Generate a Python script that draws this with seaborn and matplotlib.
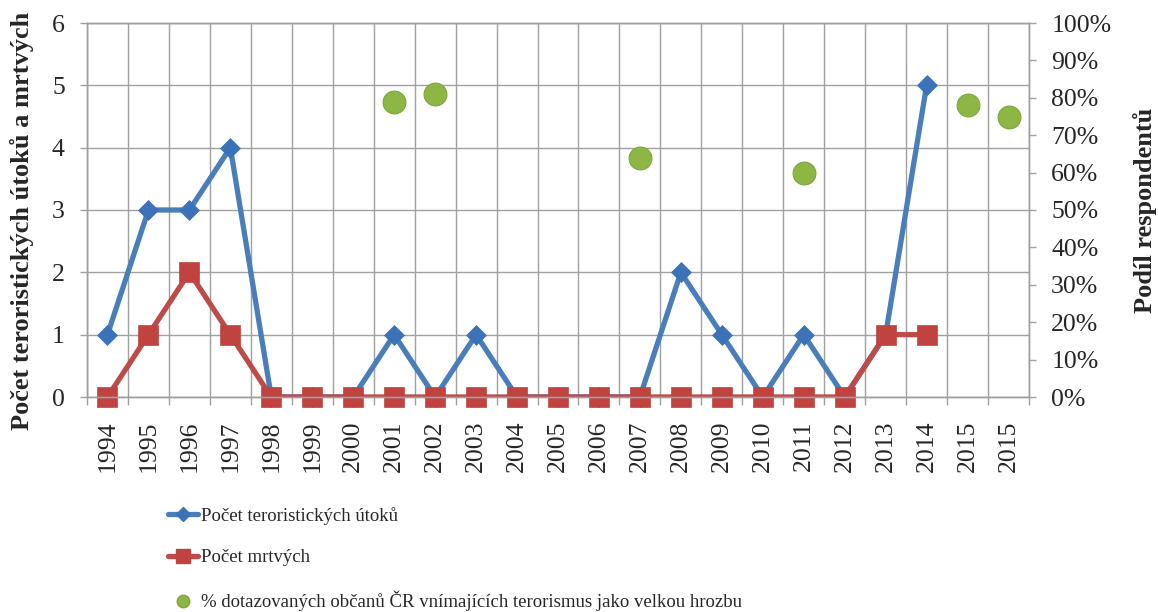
import numpy as np
import pandas as pd
import matplotlib
matplotlib.use('Agg')
import matplotlib.pyplot as plt
from matplotlib.lines import Line2D
from matplotlib.ticker import MultipleLocator, PercentFormatter
import seaborn as sns

# Data
years = ['1994', '1995', '1996', '1997', '1998', '1999', '2000', '2001', '2002',
         '2003', '2004', '2005', '2006', '2007', '2008', '2009', '2010', '2011',
         '2012', '2013', '2014', '2015', '2015']
attacks = [1, 3, 3, 4, 0, 0, 0, 1, 0, 1, 0, 0, 0, 0, 2, 1, 0, 1, 0, 1, 5,
           np.nan, np.nan]
deaths = [0, 1, 2, 1, 0, 0, 0, 0, 0, 0, 0, 0, 0, 0, 0, 0, 0, 0, 0, 1, 1,
          np.nan, np.nan]
threat_pct = [np.nan, np.nan, np.nan, np.nan, np.nan, np.nan, np.nan, 79, 81,
              np.nan, np.nan, np.nan, np.nan, 64, np.nan, np.nan, np.nan, 60,
              np.nan, np.nan, np.nan, 78, 75]

label_attacks = 'Počet teroristických útoků'
label_deaths = 'Počet mrtvých'
label_threat = '% dotazovaných občanů ČR vnímajících terorismus jako velkou hrozbu'

BLUE = '#4A7EBB'
BLUE_MK = '#3C72B8'
RED = '#BE4B48'
RED_MK = '#C0433F'
GREEN = '#8DB644'
GRID = '#A0A0A0'

sns.set_theme(style='white')
plt.rcParams['font.family'] = ['Liberation Serif', 'DejaVu Serif']

df = pd.DataFrame({'pos': np.arange(len(years)), 'year': years,
                   'attacks': attacks, 'deaths': deaths, 'threat': threat_pct})

fig = plt.figure(figsize=(11.58, 6.12), dpi=100)
ax = fig.add_axes([87 / 1158, 1 - 397 / 612, 942 / 1158, 374 / 612])
ax2 = ax.twinx()

# lines (clipped at the axis like the original) then markers on top
for col, color, mcolor, mk, ms in [('attacks', BLUE, BLUE_MK, 'D', 10),
                                   ('deaths', RED, RED_MK, 's', 15)]:
    sub = df.dropna(subset=[col])
    sns.lineplot(data=sub, x='pos', y=col, ax=ax, color=color, linewidth=3.8,
                 sort=False, estimator=None, legend=False)
    sns.lineplot(data=sub, x='pos', y=col, ax=ax, color=mcolor, linestyle='none',
                 marker=mk, markersize=ms, markeredgecolor=mcolor,
                 markeredgewidth=0.5, estimator=None, legend=False, clip_on=False)

sns.scatterplot(data=df.dropna(subset=['threat']), x='pos', y='threat', ax=ax2,
                color=GREEN, s=270, edgecolor='#7FA63A', linewidth=0.8,
                legend=False, zorder=5)

# axes
ax.set_xlim(-0.5, len(years) - 0.5)
ax.set_ylim(0, 6)
ax2.set_ylim(0, 100)
ax.set_xticks(df['pos'])
ax.set_xticklabels(years, rotation=90)
ax.set_xticks(np.arange(len(years) + 1) - 0.5, minor=True)
ax.yaxis.set_major_locator(MultipleLocator(1))
ax2.yaxis.set_major_locator(MultipleLocator(10))
ax2.yaxis.set_major_formatter(PercentFormatter(xmax=100, decimals=0))

ax.grid(True, which='minor', axis='x', color=GRID, linewidth=1.0)
ax.grid(True, which='major', axis='y', color=GRID, linewidth=1.0)
ax.grid(False, which='major', axis='x')
ax.set_axisbelow(True)
ax2.grid(False)

ax.tick_params(axis='x', which='major', length=0, pad=17, labelsize=18.5)
ax.tick_params(axis='x', which='minor', bottom=True, length=6, width=1.0,
               color=GRID, direction='out')
ax.tick_params(axis='y', which='major', left=True, length=5, width=1.0,
               color=GRID, direction='out', pad=11, labelsize=18.5)
ax2.tick_params(axis='y', which='major', right=True, length=5, width=1.0,
                color=GRID, direction='out', pad=11, labelsize=18.5)

for a in (ax, ax2):
    for sp in a.spines.values():
        sp.set_color(GRID)
        sp.set_linewidth(1.0)

ax.set_xlabel('')
ax.set_ylabel('Počet teroristických útoků a mrtvých', fontsize=19,
              fontweight='bold', va='center')
ax.yaxis.set_label_coords(-0.069, 0.47)
ax2.set_ylabel('Podíl respondentů', fontsize=19, fontweight='bold',
               va='center', rotation=90)
ax2.yaxis.set_label_coords(1.123, 0.5)

# legend below the plot
handles = [
    Line2D([], [], color=BLUE, linewidth=3.8, marker='D', markersize=7,
           markerfacecolor=BLUE_MK, markeredgecolor=BLUE_MK),
    Line2D([], [], color=RED, linewidth=3.8, marker='s', markersize=10,
           markerfacecolor=RED_MK, markeredgecolor=RED_MK),
    Line2D([], [], color=GREEN, linestyle='none', marker='o', markersize=9,
           markeredgecolor='#7FA63A'),
]
fig.legend(handles, [label_attacks, label_deaths, label_threat],
           loc='upper left', bbox_to_anchor=(168 / 1158, 1 - 507 / 612),
           frameon=False, fontsize=13.5, handlelength=1.6, handletextpad=0.15,
           labelspacing=1.3, borderpad=0, borderaxespad=0)

fig.savefig('out.png', dpi=100)
